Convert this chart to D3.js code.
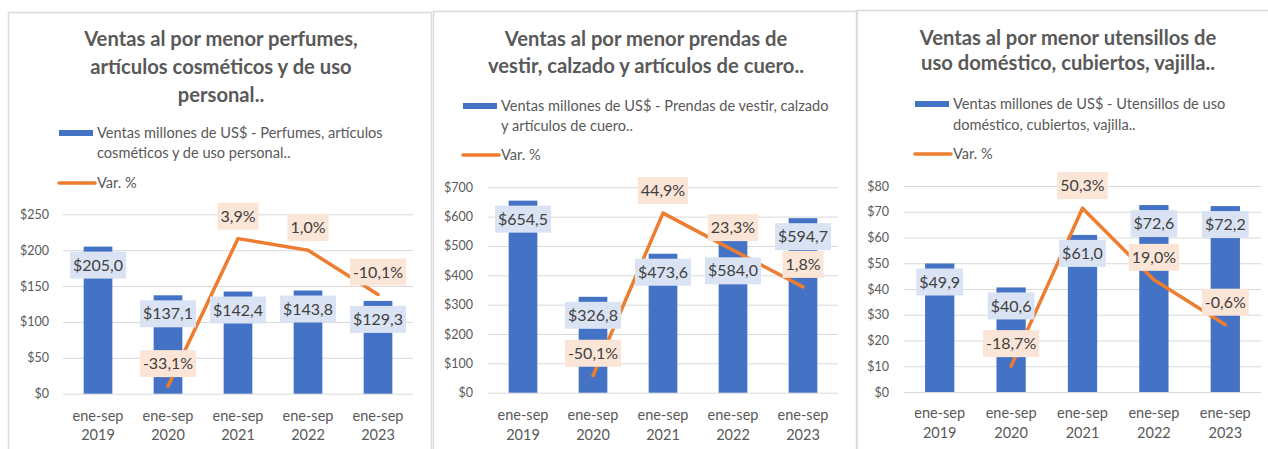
<!DOCTYPE html>
<html>
<head>
<meta charset="utf-8">
<script src="https://cdn.jsdelivr.net/npm/d3@7"></script>
<style>
	body { margin: 0; background: #fff; }
	text { font-family: Lato, "Noto Sans", sans-serif; }
</style>
</head>
<body>
<svg id="chart" width="1268" height="449"></svg>
<script>

// data
var years = ["2019", "2020", "2021", "2022", "2023"];
var periodo = "ene-sep";

var perfumesVentas = [205.0, 137.1, 142.4, 143.8, 129.3];
var perfumesVar = [null, -33.1, 3.9, 1.0, -10.1];
var perfumesTicks = [0, 50, 100, 150, 200, 250];

var prendasVentas = [654.5, 326.8, 473.6, 584.0, 594.7];
var prendasVar = [null, -50.1, 44.9, 23.3, 1.8];
var prendasTicks = [0, 100, 200, 300, 400, 500, 600, 700];

var utensiliosVentas = [49.9, 40.6, 61.0, 72.6, 72.2];
var utensiliosVar = [null, -18.7, 50.3, 19.0, -0.6];
var utensiliosTicks = [0, 10, 20, 30, 40, 50, 60, 70, 80];

var perfumesTitle = ["Ventas al por menor perfumes,", "artículos cosméticos y de uso", "personal.."];
var prendasTitle = ["Ventas al por menor prendas de", "vestir, calzado y artículos de cuero.."];
var utensiliosTitle = ["Ventas al por menor utensillos de", "uso doméstico, cubiertos, vajilla.."];

var perfumesLegend = ["Ventas millones de US$ - Perfumes, artículos", "cosméticos y de uso personal.."];
var prendasLegend = ["Ventas millones de US$ - Prendas de vestir, calzado", "y artículos de cuero.."];
var utensiliosLegend = ["Ventas millones de US$ - Utensillos de uso", "doméstico, cubiertos, vajilla.."];
var varLegend = "Var. %";


var BLUE = "#4472C4", ORANGE = "#ED7D31", GREY_TEXT = "#595959", GRID = "#d9d9d9";

var panels = [
	{ title: perfumesTitle, legend: perfumesLegend, ventas: perfumesVentas, variacion: perfumesVar, ticks: perfumesTicks,
	  varDomain: [-35, 10], box: [8.5, 12.5, 423], titleX: 221, titleY: [39, 67, 95],
	  legendX: 59, legendY: [133, 153], varY: 183, plot: [63, 413, 214.3, 393.7], tickRight: 49, catY: [416, 435],
	  labelShift: [0, 0, 0, 0, 0] },
	{ title: prendasTitle, legend: prendasLegend, ventas: prendasVentas, variacion: prendasVar, ticks: prendasTicks,
	  varDomain: [-60, 60], box: [433.5, 11.5, 423], titleX: 646, titleY: [39, 66],
	  legendX: 463, legendY: [106, 126], varY: 155, plot: [488, 838, 187.3, 392.7], tickRight: 473, catY: [415, 435],
	  labelShift: [0, 0, 0, 31, 0] }, // the 2022 label was moved down in the original
	{ title: utensiliosTitle, legend: utensiliosLegend, ventas: utensiliosVentas, variacion: utensiliosVar, ticks: utensiliosTicks,
	  varDomain: [-30, 60], box: [857, 10.5, 420], titleX: 1068, titleY: [38, 63],
	  legendX: 915, legendY: [104, 125], varY: 154, plot: [904, 1261, 186, 392], tickRight: 889, catY: [413, 433],
	  labelShift: [0, 0, 0, 0, 0] }
];

var svg = d3.select("#chart");

function fmt(v){
	return v.toFixed(1).replace(".", ",");
}

function drawPanel(p){

	var g = svg.append("g");

	// frame of the panel
	g.append("rect")
		.attr("x", p.box[0]).attr("y", p.box[1])
		.attr("width", p.box[2]).attr("height", 480)
		.attr("fill", "none").attr("stroke", GRID).attr("stroke-width", 1.5);

	// title
	g.selectAll(".title").data(p.title).enter().append("text")
		.attr("x", p.titleX)
		.attr("y", function(d, i){ return p.titleY[i]; })
		.attr("dy", "0.35em")
		.attr("text-anchor", "middle")
		.attr("font-size", 20.2).attr("font-weight", "bold")
		.attr("fill", GREY_TEXT)
		.text(function(d){ return d; });

	// legend
	g.append("rect")
		.attr("x", p.legendX).attr("y", p.legendY[0] - 3)
		.attr("width", 34).attr("height", 6)
		.attr("fill", BLUE);
	g.selectAll(".legendText").data(p.legend).enter().append("text")
		.attr("x", p.legendX + 38)
		.attr("y", function(d, i){ return p.legendY[i]; })
		.attr("dy", "0.35em")
		.attr("font-size", 14.6).attr("fill", GREY_TEXT)
		.text(function(d){ return d; });
	g.append("line")
		.attr("x1", p.legendX).attr("x2", p.legendX + 36)
		.attr("y1", p.varY).attr("y2", p.varY)
		.attr("stroke", ORANGE).attr("stroke-width", 3.5).attr("stroke-linecap", "round");
	g.append("text")
		.attr("x", p.legendX + 38).attr("y", p.varY).attr("dy", "0.35em")
		.attr("font-size", 14.6).attr("fill", GREY_TEXT)
		.text(varLegend);

	// scales
	var x = d3.scaleBand().domain(years).range([p.plot[0], p.plot[1]])
		.paddingInner(0.59).paddingOuter(0.295);
	var y = d3.scaleLinear().domain([0, d3.max(p.ticks)]).range([p.plot[3], p.plot[2]]);
	var yVar = d3.scaleLinear().domain(p.varDomain).range([p.plot[3], p.plot[2]]);
	var cx = function(d){ return x(d) + x.bandwidth() / 2; };

	// y axis with gridlines
	var yAxis = d3.axisLeft(y)
		.tickValues(p.ticks)
		.tickSize(-(p.plot[1] - p.plot[0]))
		.tickPadding(p.plot[0] - p.tickRight)
		.tickFormat(function(d){ return "$" + d; });

	var gY = g.append("g")
		.attr("transform", "translate(" + p.plot[0] + ",0)")
		.call(yAxis);
	gY.select(".domain").remove();
	gY.selectAll("line").attr("stroke", GRID);
	gY.selectAll("text").attr("fill", GREY_TEXT).attr("font-size", 12.5)
		.attr("font-family", "Lato, 'Noto Sans', sans-serif");

	// category labels, two lines each
	var cats = g.selectAll(".cat").data(years).enter().append("g");
	cats.append("text")
		.attr("x", cx).attr("y", p.catY[0]).attr("dy", "0.35em")
		.attr("text-anchor", "middle").attr("font-size", 14.5).attr("fill", GREY_TEXT)
		.text(periodo);
	cats.append("text")
		.attr("x", cx).attr("y", p.catY[1]).attr("dy", "0.35em")
		.attr("text-anchor", "middle").attr("font-size", 14.5).attr("fill", GREY_TEXT)
		.text(function(d){ return d; });

	// bars
	g.selectAll(".bar").data(p.ventas).enter().append("rect")
		.attr("x", function(d, i){ return x(years[i]); })
		.attr("width", x.bandwidth())
		.attr("y", function(d){ return y(d); })
		.attr("height", function(d){ return y(0) - y(d); })
		.attr("fill", BLUE);

	// variation line (secondary axis, not shown)
	var pts = p.variacion.map(function(v, i){ return { v: v, yr: years[i] }; })
		.filter(function(d){ return d.v !== null; });

	var line = d3.line()
		.x(function(d){ return cx(d.yr); })
		.y(function(d){ return yVar(d.v); });

	g.append("path")
		.datum(pts)
		.attr("d", line)
		.attr("fill", "none").attr("stroke", ORANGE)
		.attr("stroke-width", 3.5).attr("stroke-linecap", "round").attr("stroke-linejoin", "round");

	// data labels with boxes
	function label(px, topY, txt, fill){
		var lg = g.append("g");
		var rect = lg.append("rect").attr("fill", fill);
		var t = lg.append("text")
			.attr("x", px).attr("y", topY + 13.5).attr("dy", "0.35em")
			.attr("text-anchor", "middle").attr("font-size", 16).attr("fill", "#404040")
			.text(txt);
		var w = t.node().getComputedTextLength() + 6;
		rect.attr("x", px - w / 2).attr("y", topY).attr("width", w).attr("height", 27);
	}

	p.ventas.forEach(function(v, i){
		label(cx(years[i]), y(v) + 5 + p.labelShift[i], "$" + fmt(v), "#DAE3F3");
	});
	pts.forEach(function(d){
		label(cx(d.yr), yVar(d.v) - 9 - 27, fmt(d.v) + "%", "#FBE5D6");
	});
}

panels.forEach(drawPanel);

</script>
</body>
</html>
